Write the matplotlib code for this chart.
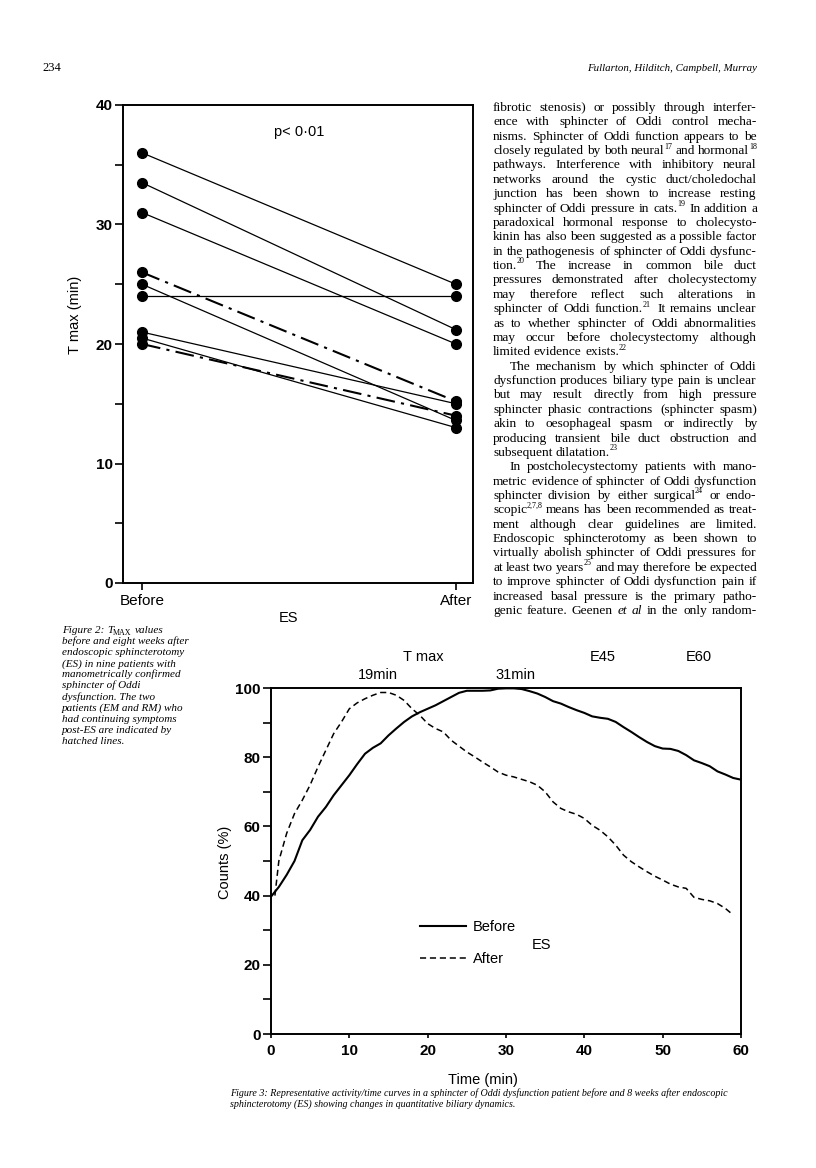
import matplotlib
matplotlib.use('Agg')
import matplotlib.pyplot as plt
from matplotlib.ticker import MultipleLocator
from matplotlib.transforms import IdentityTransform

W, H = 816, 1168
SANS = 'Liberation Sans'
SERIF = 'Liberation Serif'

# Figure 2: T max (min) before and after ES, nine patients
group_labels = ['Before', 'After']
tmax_before = [36, 33.5, 31, 26, 25, 24, 21, 20.5, 20]
tmax_after = [25, 21.2, 20, 15.2, 13.6, 24, 15, 13, 14]
hatched = [False, False, False, True, False, False, False, False, True]

# Figure 3: activity/time curves, counts (%) against time (min)
time_before = list(range(0, 61))
counts_before = [39.7, 42.5, 46, 50, 56, 59, 62.8, 65.6, 69, 71.9, 74.8,
                 78, 81, 82.7, 84, 86.3, 88.3, 90.2, 91.8, 93, 94,
                 95, 96.2, 97.4, 98.6, 99.2, 99.2, 99.2, 99.3, 99.8, 99.9,
                 99.9, 99.7, 99.1, 98.4, 97.4, 96.2, 95.5, 94.5, 93.6, 92.8,
                 91.8, 91.4, 91.1, 90.2, 88.7, 87.3, 85.8, 84.4, 83.2, 82.5,
                 82.4, 81.8, 80.6, 79.1, 78.3, 77.4, 75.9, 75, 74, 73.5]
time_after = [0.5] + list(range(1, 60))
counts_after = [40, 50, 58, 63.7, 67.6, 72, 77.2, 82, 86.8, 90.2, 94,
                95.7, 96.9, 97.9, 98.7, 98.7, 97.9, 96.4, 94, 92.1, 89.7,
                88.3, 87.3, 84.9, 83.2, 81.5, 80.1, 78.6, 77.2, 75.7, 74.8,
                74.3, 73.6, 72.9, 71.9, 70, 67.1, 65.2, 64.2, 63.5, 62.3,
                60.3, 58.9, 57, 54.6, 51.7, 49.8, 48.3, 46.9, 45.6, 44.5,
                43.3, 42.5, 42.1, 39.5, 38.9, 38.5, 37.7, 36.3, 34.4]
peak_labels = ['19min', '31min']
peak_pos = [13.7, 31.2]
top_labels = ['T max', 'E45', 'E60']
top_pos = [19.5, 42.3, 54.6]

body_text = [
    "fibrotic stenosis) or possibly through interfer-",
    "ence with sphincter of Oddi control mecha-",
    "nisms. Sphincter of Oddi function appears to be",
    "closely regulated by both neural^17 and hormonal^18",
    "pathways. Interference with inhibitory neural",
    "networks around the cystic duct/choledochal",
    "junction has been shown to increase resting",
    "sphincter of Oddi pressure in cats.^19 In addition a",
    "paradoxical hormonal response to cholecysto-",
    "kinin has also been suggested as a possible factor",
    "in the pathogenesis of sphincter of Oddi dysfunc-",
    "tion.^20 The increase in common bile duct",
    "pressures demonstrated after cholecystectomy",
    "may therefore reflect such alterations in",
    "sphincter of Oddi function.^21 It remains unclear",
    "as to whether sphincter of Oddi abnormalities",
    "may occur before cholecystectomy although",
    "limited evidence exists.^22|",
    ">The mechanism by which sphincter of Oddi",
    "dysfunction produces biliary type pain is unclear",
    "but may result directly from high pressure",
    "sphincter phasic contractions (sphincter spasm)",
    "akin to oesophageal spasm or indirectly by",
    "producing transient bile duct obstruction and",
    "subsequent dilatation.^23|",
    ">In postcholecystectomy patients with mano-",
    "metric evidence of sphincter of Oddi dysfunction",
    "sphincter division by either surgical^24 or endo-",
    "scopic^2,7,8 means has been recommended as treat-",
    "ment although clear guidelines are limited.",
    "Endoscopic sphincterotomy as been shown to",
    "virtually abolish sphincter of Oddi pressures for",
    "at least two years^25 and may therefore be expected",
    "to improve sphincter of Oddi dysfunction pain if",
    "increased basal pressure is the primary patho-",
    "genic feature. Geenen *et *al in the only random-",
]

caption2 = [
    "Figure 2: T_MAX values",
    "before and eight weeks after",
    "endoscopic sphincterotomy",
    "(ES) in nine patients with",
    "manometrically confirmed",
    "sphincter of Oddi",
    "dysfunction. The two",
    "patients (EM and RM) who",
    "had continuing symptoms",
    "post-ES are indicated by",
    "hatched lines.",
]

caption3 = [
    "Figure 3: Representative activity/time curves in a sphincter of Oddi "
    "dysfunction patient before and 8 weeks after endoscopic",
    "sphincterotomy (ES) showing changes in quantitative biliary dynamics.",
]

fig = plt.figure(figsize=(W / 100, H / 100), dpi=100)
renderer = fig.canvas.get_renderer()


def place_line(line, x, y, size, width=None, style='normal', ha='left'):
    # draws one line of text word by word (pixel coords, y from the top)
    px = 100 / 72
    indent = 0
    justify = width is not None
    if line.startswith('>'):
        line = line[1:]
        indent = 1.3 * size * px
    if line.endswith('|'):
        line = line[:-1]
        justify = False
    if not justify and not any(c in line for c in '^_*'):
        fig.text(x + indent, H - y, line, fontsize=size, fontstyle=style, family=SERIF,
                 transform=IdentityTransform(), va='baseline', ha=ha)
        return
    groups = []
    for w in line.split():
        st = style
        if w.startswith('*'):
            st, w = 'italic', w[1:]
        segs = [(w, size, 0, st)]
        if '^' in w:
            a, b = w.split('^')
            segs = [(a, size, 0, st), (b, size * 0.6, size * 0.42 * px, 'normal')]
        elif '_' in w:
            a, b = w.split('_')
            segs = [(a, size, 0, st), (b, size * 0.72, -size * 0.2 * px, 'normal')]
        arts = []
        for s, fs, dy, fst in segs:
            t = fig.text(0, 0, s, fontsize=fs, fontstyle=fst, family=SERIF,
                         transform=IdentityTransform(), va='baseline')
            arts.append((t, t.get_window_extent(renderer).width, dy))
        groups.append(arts)
    widths = [sum(a[1] for a in g) for g in groups]
    space = 0.25 * size * px
    total = sum(widths) + space * (len(groups) - 1)
    if justify and len(groups) > 1:
        space = (width - indent - sum(widths)) / (len(groups) - 1)
        total = width - indent
    cx = x + indent
    if ha == 'right':
        cx = x - total
    for g, gw in zip(groups, widths):
        for t, tw, dy in g:
            t.set_position((round(cx), H - y + dy))
            cx += tw
        cx += space


def ftext(x, y, s, **kw):
    fig.text(x / W, 1 - y / H, s, **kw)


# header
place_line("234", 42, 71, 9)
place_line("Fullarton, Hilditch, Campbell, Murray", 757, 71, 7.8, style='italic', ha='right')

# body column
for i, line in enumerate(body_text):
    place_line(line, 493, 111 + i * 14.37, 9.6, width=264)

# figure 2 caption
for i, line in enumerate(caption2):
    place_line(line, 62, 633 + i * 11.1, 8.0, style='italic')

# figure 3 caption
for i, line in enumerate(caption3):
    place_line(line, 230, 1096 + i * 11, 7.2, style='italic')

# ---- Figure 2 chart ----
ax1 = fig.add_axes([123 / W, 1 - 583 / H, 350 / W, 478 / H])
for b, a, h in zip(tmax_before, tmax_after, hatched):
    if h:
        ax1.plot([0, 1], [b, a], color='black', ls=(0, (9, 3, 1.5, 3)), lw=1.5,
                 marker='o', ms=7, clip_on=False)
    else:
        ax1.plot([0, 1], [b, a], color='black', ls='-', lw=0.9,
                 marker='o', ms=7, clip_on=False)
ax1.set_xlim(-19 / 314, 1 + 17 / 314)
ax1.set_ylim(0, 40)
ax1.set_xticks([0, 1])
ax1.set_xticklabels(group_labels, fontsize=11, family=SANS)
ax1.yaxis.set_major_locator(MultipleLocator(10))
ax1.yaxis.set_minor_locator(MultipleLocator(5))
ax1.tick_params(axis='y', which='both', length=6, width=1.2, pad=1.5)
ax1.tick_params(axis='x', length=5, width=1.2, pad=3)
for lab in ax1.get_yticklabels():
    lab.set_fontsize(11)
    lab.set_fontweight('bold')
    lab.set_family(SANS)
for sp in ax1.spines.values():
    sp.set_linewidth(1.4)
ax1.text(0.5, 37.7, 'p< 0·01', ha='center', va='center', fontsize=10.5, family=SANS)
ftext(75, 315, 'T max (min)', rotation=90, ha='center', va='center', fontsize=10.5, family=SANS)
ftext(289, 618, 'ES', ha='center', va='center', fontsize=10.5, family=SANS)

# ---- Figure 3 chart ----
ax2 = fig.add_axes([271 / W, 1 - 1034 / H, 470 / W, 346 / H])
ax2.plot(time_before, counts_before, color='black', lw=1.5, label='Before')
ax2.plot(time_after, counts_after, color='black', lw=1.1, ls=(0, (4, 2.5)), label='After')
ax2.set_xlim(0, 60)
ax2.set_ylim(0, 100)
ax2.yaxis.set_major_locator(MultipleLocator(20))
ax2.yaxis.set_minor_locator(MultipleLocator(10))
ax2.xaxis.set_major_locator(MultipleLocator(10))
ax2.tick_params(axis='y', which='both', length=6, width=1.2, pad=1.5)
ax2.tick_params(axis='x', length=3, width=1.2, pad=4)
for lab in ax2.get_xticklabels() + ax2.get_yticklabels():
    lab.set_fontsize(11)
    lab.set_fontweight('bold')
    lab.set_family(SANS)
for sp in ax2.spines.values():
    sp.set_linewidth(1.4)
ax2.legend(loc='upper left', bbox_to_anchor=(0.318, 0.33), frameon=False,
           borderaxespad=0, borderpad=0, handlelength=3.1, handletextpad=0.5,
           labelspacing=1.25, prop={'family': SANS, 'size': 10.5})
ax2.text(34.5, 25.7, 'ES', ha='center', va='center', fontsize=10.5, family=SANS)
for s, xp in zip(peak_labels, peak_pos):
    ax2.text(xp, 103.8, s, ha='center', va='center', fontsize=10.5, family=SANS, clip_on=False)
for s, xp in zip(top_labels, top_pos):
    ax2.text(xp, 109, s, ha='center', va='center', fontsize=10.5, family=SANS, clip_on=False)
ftext(225, 862, 'Counts (%)', rotation=90, ha='center', va='center', fontsize=10.5, family=SANS)
ftext(483, 1080, 'Time (min)', ha='center', va='center', fontsize=10.5, family=SANS)

fig.savefig('out.png', dpi=100)
